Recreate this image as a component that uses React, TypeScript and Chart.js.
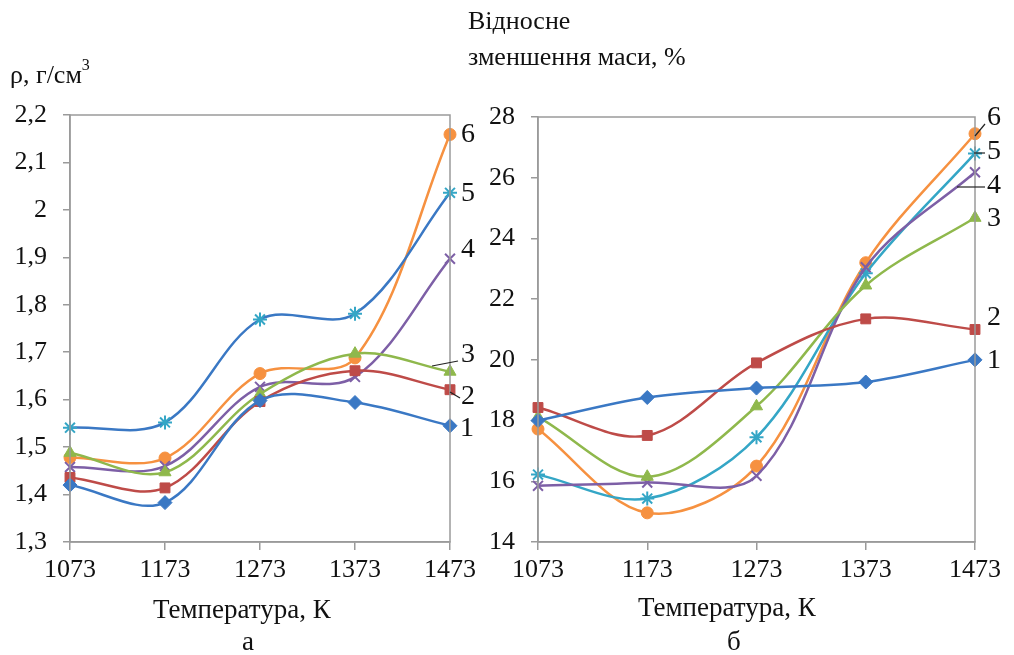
import React, { useEffect, useRef } from "react";
import { Chart, registerables } from "chart.js";

Chart.register(...registerables);

const temperatures = ["1073", "1173", "1273", "1373", "1473"];

// Left chart (a): density, g/cm3
const densityS1 = [1.42, 1.383, 1.598, 1.594, 1.545];
const densityS2 = [1.436, 1.414, 1.596, 1.661, 1.621];
const densityS3 = [1.488, 1.447, 1.612, 1.697, 1.659];
const densityS4 = [1.458, 1.46, 1.627, 1.648, 1.897];
const densityS5 = [1.541, 1.552, 1.769, 1.781, 2.036];
const densityS6 = [1.478, 1.477, 1.655, 1.688, 2.159];

// Right chart (b): relative mass decrease, %
const massS1 = [18.0, 18.76, 19.07, 19.27, 20.0];
const massS2 = [18.43, 17.51, 19.9, 21.35, 21.0];
const massS3 = [18.12, 16.15, 18.47, 22.45, 24.68];
const massS4 = [15.85, 15.96, 16.18, 23.05, 26.18];
const massS5 = [16.22, 15.43, 17.45, 22.85, 26.8];
const massS6 = [17.72, 14.96, 16.5, 23.2, 27.45];

const seriesNames = ["1", "2", "3", "4", "5", "6"];

const BLUE = "#3a78c4";
const RED = "#be4b48";
const GREEN = "#8fb84c";
const PURPLE = "#7d5fa6";
const AQUA = "#34a6c6";
const ORANGE = "#f69140";

const pointStyles = ["rectRot", "rect", "triangle", "crossRot", "star", "circle"];
const markerColors = [BLUE, RED, GREEN, PURPLE, AQUA, ORANGE];

const FONT = "'Liberation Serif', 'Times New Roman', serif";
const AXIS_GRAY = "#9a9a9a";

type LabelSpec = { text: string; x: number; y: number; line?: [number, number, number, number] };

function makeOptions(min: number, max: number, step: number, pad: any, yw: number, labels: LabelSpec[]) {
  const frame = {
    id: "frame",
    afterDatasetsDraw(chart: any) {
      const { ctx, chartArea } = chart;
      ctx.save();
      ctx.strokeStyle = AXIS_GRAY;
      ctx.lineWidth = 1.5;
      ctx.strokeRect(chartArea.left, chartArea.top, chartArea.right - chartArea.left, chartArea.bottom - chartArea.top);
      ctx.fillStyle = "#111";
      ctx.font = `28px ${FONT}`;
      ctx.textAlign = "center";
      ctx.textBaseline = "middle";
      labels.forEach((l) => {
        if (l.line) {
          ctx.strokeStyle = "#222";
          ctx.lineWidth = 1.2;
          ctx.beginPath();
          ctx.moveTo(l.line[0], l.line[1]);
          ctx.lineTo(l.line[2], l.line[3]);
          ctx.stroke();
        }
        ctx.fillText(l.text, l.x, l.y);
      });
      ctx.restore();
    },
  };
  const options: any = {
    animation: false,
    responsive: false,
    maintainAspectRatio: false,
    layout: { padding: pad },
    plugins: { legend: { display: false }, tooltip: { enabled: false } },
    scales: {
      x: {
        type: "category",
        offset: false,
        grid: { drawOnChartArea: false, tickLength: 8, color: AXIS_GRAY, lineWidth: 1.5 },
        border: { display: true, color: AXIS_GRAY, width: 1.5 },
        ticks: { color: "#111", font: { family: FONT, size: 26 }, padding: 5, maxRotation: 0, autoSkip: false },
        afterFit: (s: any) => {
          s.height = 113;
        },
      },
      y: {
        min,
        max,
        grid: { drawOnChartArea: false, tickLength: 7, color: AXIS_GRAY, lineWidth: 1.5 },
        border: { display: true, color: AXIS_GRAY, width: 1.5 },
        ticks: {
          stepSize: step,
          color: "#111",
          padding: 16,
          font: { family: FONT, size: 26 },
          callback: (v: any) => String(Math.round(Number(v) * 10) / 10).replace(".", ","),
        },
        afterFit: (s: any) => {
          s.width = yw;
        },
      },
    },
  };
  return { options, plugins: [frame] };
}

function buildDatasets(values: number[][], lineColors: string[]) {
  return values.map((data, i) => ({
    label: seriesNames[i],
    data,
    borderColor: lineColors[i],
    backgroundColor: markerColors[i],
    pointBorderColor: markerColors[i],
    pointBackgroundColor: markerColors[i],
    pointStyle: pointStyles[i],
    pointRadius: pointStyles[i] === "circle" ? 6 : 7,
    pointBorderWidth: pointStyles[i] === "crossRot" || pointStyles[i] === "star" ? 2 : 1,
    borderWidth: 2.5,
    tension: 0.34,
    cubicInterpolationMode: "default",
    fill: false,
  }));
}

function ChartCanvas(props: { left: number; width: number; make: () => any }) {
  const ref = useRef<HTMLCanvasElement>(null);
  useEffect(() => {
    const cfg = props.make();
    const chart = new Chart(ref.current as HTMLCanvasElement, cfg);
    return () => chart.destroy();
  }, []);
  return (
    <canvas
      ref={ref}
      width={props.width}
      height={655}
      style={{ position: "absolute", left: props.left, top: 0, width: props.width, height: 655 }}
    />
  );
}

const textStyle: React.CSSProperties = {
  position: "absolute",
  fontFamily: FONT,
  color: "#111",
  whiteSpace: "nowrap",
  lineHeight: 1,
};

export default function App() {
  const makeLeft = () => {
    const labels: LabelSpec[] = [
      { text: "6", x: 468, y: 135 },
      { text: "5", x: 468, y: 194 },
      { text: "4", x: 468, y: 250 },
      { text: "3", x: 468, y: 355, line: [432, 366, 458, 361] },
      { text: "2", x: 468, y: 397, line: [450, 392, 460, 398] },
      { text: "1", x: 467, y: 429 },
    ];
    const { options, plugins } = makeOptions(1.3, 2.2, 0.1, { top: 115, right: 50, left: 0, bottom: 0 }, 70, labels);
    return {
      type: "line",
      data: {
        labels: temperatures,
        datasets: buildDatasets(
          [densityS1, densityS2, densityS3, densityS4, densityS5, densityS6],
          [BLUE, RED, GREEN, PURPLE, BLUE, ORANGE]
        ),
      },
      options,
      plugins,
    };
  };
  const makeRight = () => {
    const o = 490;
    const labels: LabelSpec[] = [
      { text: "6", x: 994 - o, y: 118, line: [975 - o, 136, 985 - o, 124] },
      { text: "5", x: 994 - o, y: 152, line: [974 - o, 153, 985 - o, 153] },
      { text: "4", x: 994 - o, y: 186, line: [957 - o, 187, 985 - o, 187] },
      { text: "3", x: 994 - o, y: 219 },
      { text: "2", x: 994 - o, y: 318 },
      { text: "1", x: 994 - o, y: 361 },
    ];
    const { options, plugins } = makeOptions(14, 28, 2, { top: 117, right: 39, left: 0, bottom: 0 }, 48, labels);
    return {
      type: "line",
      data: {
        labels: temperatures,
        datasets: buildDatasets(
          [massS1, massS2, massS3, massS4, massS5, massS6],
          [BLUE, RED, GREEN, PURPLE, AQUA, ORANGE]
        ),
      },
      options,
      plugins,
    };
  };

  return (
    <div style={{ position: "fixed", left: 0, top: 0, width: 1014, height: 655, background: "#fff", overflow: "hidden" }}>
      <ChartCanvas left={0} width={500} make={makeLeft} />
      <ChartCanvas left={490} width={524} make={makeRight} />
      <div style={{ ...textStyle, left: 10, top: 62, fontSize: 26 }}>
        ρ, г/см<sup style={{ fontSize: 16, verticalAlign: "top", position: "relative", top: -5 }}>3</sup>
      </div>
      <div style={{ ...textStyle, left: 468, top: 8, fontSize: 26 }}>Відносне</div>
      <div style={{ ...textStyle, left: 468, top: 44, fontSize: 26 }}>зменшення маси, %</div>
      <div style={{ ...textStyle, left: 153, top: 596, fontSize: 27 }}>Температура, К</div>
      <div style={{ ...textStyle, left: 242, top: 628, fontSize: 27 }}>а</div>
      <div style={{ ...textStyle, left: 638, top: 594, fontSize: 27 }}>Температура, К</div>
      <div style={{ ...textStyle, left: 727, top: 628, fontSize: 27 }}>б</div>
    </div>
  );
}
